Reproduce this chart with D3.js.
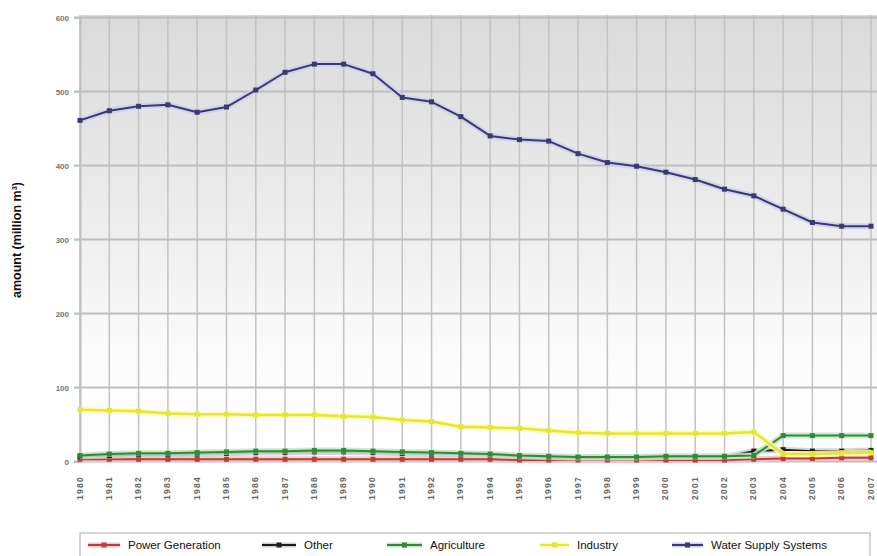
<!DOCTYPE html>
<html>
<head>
<meta charset="utf-8">
<script src="https://cdn.jsdelivr.net/npm/d3@7/dist/d3.min.js"></script>
<style>
  html, body { margin: 0; padding: 0; background: #fff; }
  svg { display: block; font-family: "Liberation Sans", Arial, sans-serif; }
</style>
</head>
<body>
<svg id="chart" width="877" height="556"></svg>
<script>
// Water abstraction by user group, million m³ per year
const years = d3.range(1980, 2008);
const yTicks = [0, 100, 200, 300, 400, 500, 600];

const powerGeneration = [3,3,3,3,3,3,3,3,3,3,3,3,3,3,3,2,2,2,2,2,2,2,2,3,4,4,5,5];
const other = [7,8,9,9,10,11,12,12,13,13,12,11,10,10,9,7,6,5,5,5,6,6,6,14,16,14,14,15];
const agriculture = [8,10,11,11,12,13,14,14,15,15,14,13,12,11,10,8,7,6,6,6,7,7,7,8,35,35,35,35];
const industry = [70,69,68,65,64,64,63,63,63,61,60,56,54,47,46,45,42,39,38,38,38,38,38,40,10,10,11,12];
const waterSupply = [461,474,480,482,472,479,502,526,537,537,524,492,486,466,440,435,433,416,404,399,391,381,368,359,341,323,318,318];

const seriesNames = ["Power Generation", "Other", "Agriculture", "Industry", "Water Supply Systems"];
const seriesValues = [powerGeneration, other, agriculture, industry, waterSupply];
const seriesColors = ["#c23b3b", "#1e1e1e", "#2f8a3a", "#e6e62e", "#3a3a70"];
const haloColors = ["#f2c4c4", "#cfcfcf", "#c4e6c4", "#fbfbb8", "#cfcfee"];

const svg = d3.select("#chart");
const plot = { left: 80, right: 877, top: 15, bottom: 462 };

const x = d3.scalePoint().domain(years).range([80, 871]);
const y = d3.scaleLinear().domain([0, 600]).range([461.5, 17.5]);

// background gradient of the plot area
const defs = svg.append("defs");
const grad = defs.append("linearGradient").attr("id", "bg").attr("x1", 0).attr("y1", 0).attr("x2", 0).attr("y2", 1);
grad.append("stop").attr("offset", "0%").attr("stop-color", "#dadada");
grad.append("stop").attr("offset", "35%").attr("stop-color", "#e8e8e8");
grad.append("stop").attr("offset", "75%").attr("stop-color", "#fbfbfb");
grad.append("stop").attr("offset", "100%").attr("stop-color", "#ffffff");

svg.append("rect")
  .attr("x", plot.left).attr("y", plot.top)
  .attr("width", plot.right - plot.left).attr("height", plot.bottom - plot.top)
  .attr("fill", "url(#bg)");

// vertical grid lines per year
svg.append("g").selectAll("line").data(years).join("line")
  .attr("x1", d => x(d)).attr("x2", d => x(d))
  .attr("y1", plot.top).attr("y2", plot.bottom)
  .attr("stroke", "#c3c3c3").attr("stroke-width", 1.5);

// horizontal grid lines
svg.append("g").selectAll("line").data(yTicks).join("line")
  .attr("x1", 74).attr("x2", plot.right)
  .attr("y1", d => y(d)).attr("y2", d => y(d))
  .attr("stroke", "#bdbdbd").attr("stroke-width", 2);

// y axis
const yAxis = svg.append("g").attr("transform", `translate(${plot.left},0)`)
  .call(d3.axisLeft(y).tickValues(yTicks).tickSize(6).tickPadding(5));
yAxis.select(".domain").attr("stroke", "#c0c0c0").attr("stroke-width", 2);
yAxis.selectAll(".tick line").attr("stroke", "#c0c0c0");
yAxis.selectAll("text").attr("fill", "#777").attr("font-size", 8).attr("font-weight", "bold");

svg.append("text")
  .attr("transform", "translate(21,240) rotate(-90)")
  .attr("text-anchor", "middle")
  .attr("font-size", 12.5).attr("font-weight", "bold").attr("fill", "#111")
  .text("amount (million m³)");

// x axis labels, vertical, reading upwards
const xAxis = svg.append("g").attr("transform", `translate(0,${plot.bottom})`)
  .call(d3.axisBottom(x).tickSize(0).tickPadding(0));
xAxis.select(".domain").remove();
xAxis.selectAll("text")
  .attr("x", 0).attr("y", 0).attr("dy", null)
  .attr("transform", "translate(-1,38) rotate(-90)")
  .attr("text-anchor", "start")
  .attr("dominant-baseline", "central")
  .attr("fill", "#666").attr("font-size", 8.5).attr("font-weight", "bold")
  .attr("letter-spacing", 1.3);

// series lines
const line = d3.line().x((d, i) => x(years[i])).y(d => y(d));

seriesValues.forEach((vals, k) => {
  const g = svg.append("g");
  g.append("path").datum(vals).attr("d", line)
    .attr("fill", "none").attr("stroke", haloColors[k]).attr("stroke-width", 6)
    .attr("stroke-linejoin", "round").attr("opacity", 0.85);
  g.append("path").datum(vals).attr("d", line)
    .attr("fill", "none").attr("stroke", seriesColors[k]).attr("stroke-width", k === 3 ? 2.5 : 2)
    .attr("stroke-linejoin", "round");
  g.selectAll("rect").data(vals).join("rect")
    .attr("x", (d, i) => x(years[i]) - 2.5).attr("y", d => y(d) - 2.5)
    .attr("width", 5).attr("height", 5)
    .attr("fill", seriesColors[k]);
});

// legend
const legend = svg.append("g");
legend.append("rect")
  .attr("x", 80).attr("y", 533).attr("width", 790).attr("height", 24)
  .attr("fill", "#fff").attr("stroke", "#c8c8c8").attr("stroke-width", 1.5);

const legendX = [88, 262, 387, 540, 672];
const legendTextX = [128, 304, 430, 577, 711];
seriesNames.forEach((name, k) => {
  const lx = legendX[k];
  const lw = legendTextX[k] - 8 - lx;
  legend.append("line")
    .attr("x1", lx).attr("x2", lx + lw).attr("y1", 545).attr("y2", 545)
    .attr("stroke", haloColors[k]).attr("stroke-width", 5);
  legend.append("line")
    .attr("x1", lx).attr("x2", lx + lw).attr("y1", 545).attr("y2", 545)
    .attr("stroke", seriesColors[k]).attr("stroke-width", 2);
  legend.append("rect")
    .attr("x", lx + lw / 2 - 2.5).attr("y", 542.5).attr("width", 5).attr("height", 5)
    .attr("fill", seriesColors[k]);
  legend.append("text")
    .attr("x", legendTextX[k]).attr("y", 545).attr("dy", "0.35em")
    .attr("font-size", 11.5).attr("fill", "#111")
    .text(name);
});
</script>
</body>
</html>
